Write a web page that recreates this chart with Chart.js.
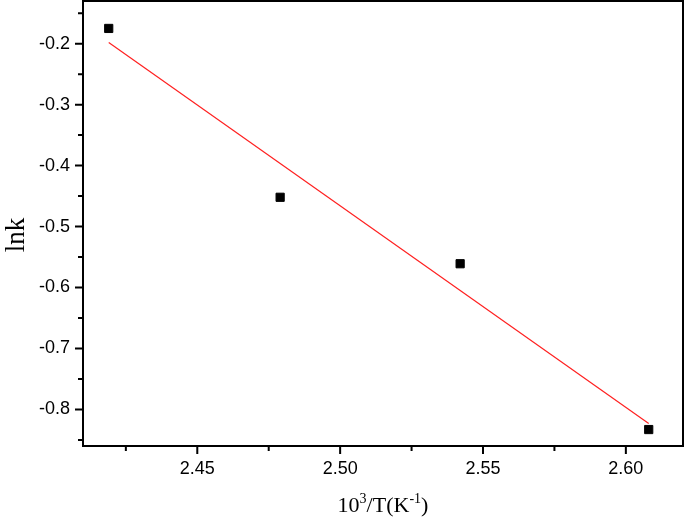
<!DOCTYPE html>
<html>
<head>
<meta charset="utf-8">
<script src="https://cdn.jsdelivr.net/npm/chart.js@4"></script>
<style>
  html, body { margin: 0; padding: 0; background: #fff; }
  canvas { display: block; }
</style>
</head>
<body>
<canvas id="myChart" width="685" height="518"></canvas>
<script>
"use strict";
// data
const invTemp = [2.419, 2.479, 2.542, 2.608];
const lnK = [-0.175, -0.452, -0.561, -0.833];
const fitX = [2.419, 2.608];
const fitY = [-0.198, -0.823];

const xMajor = [2.45, 2.50, 2.55, 2.60];
const xMinor = [2.425, 2.475, 2.525, 2.575];
const yMajor = [-0.2, -0.3, -0.4, -0.5, -0.6, -0.7, -0.8];
const yMinor = [-0.15, -0.25, -0.35, -0.45, -0.55, -0.65, -0.75, -0.85];

const frame = {
    id: "frame",
    afterDraw(chart) {
        const ctx = chart.ctx;
        const a = chart.chartArea;
        const sx = chart.scales.x, sy = chart.scales.y;
        ctx.save();
        ctx.strokeStyle = "#000";
        ctx.lineWidth = 2;
        ctx.strokeRect(a.left, a.top, a.right - a.left, a.bottom - a.top);
        ctx.beginPath();
        xMajor.forEach(v => { const p = sx.getPixelForValue(v); ctx.moveTo(p, a.bottom); ctx.lineTo(p, a.bottom + 8); });
        xMinor.forEach(v => { const p = sx.getPixelForValue(v); ctx.moveTo(p, a.bottom); ctx.lineTo(p, a.bottom + 5); });
        yMajor.forEach(v => { const p = sy.getPixelForValue(v); ctx.moveTo(a.left, p); ctx.lineTo(a.left - 8, p); });
        yMinor.forEach(v => { const p = sy.getPixelForValue(v); ctx.moveTo(a.left, p); ctx.lineTo(a.left - 5, p); });
        ctx.stroke();

        // axis titles
        ctx.fillStyle = "#000";
        ctx.textBaseline = "alphabetic";
        ctx.save();
        ctx.translate(24, 235);
        ctx.rotate(-Math.PI / 2);
        ctx.font = "27px 'Liberation Serif', 'Times New Roman', serif";
        ctx.textAlign = "center";
        ctx.fillText("lnk", 0, 0);
        ctx.restore();

        const parts = [
            ["10", false], ["3", true], ["/T(K", false], ["-1", true], [")", false]
        ];
        const big = "22px 'Liberation Serif', 'Times New Roman', serif";
        const small = "14px 'Liberation Serif', 'Times New Roman', serif";
        let total = 0;
        parts.forEach(([t, sup]) => { ctx.font = sup ? small : big; total += ctx.measureText(t).width; });
        let x = (a.left + a.right) / 2 - total / 2;
        const base = 512;
        ctx.textAlign = "left";
        parts.forEach(([t, sup]) => {
            ctx.font = sup ? small : big;
            ctx.fillText(t, x, sup ? base - 9 : base);
            x += ctx.measureText(t).width;
        });
        ctx.restore();
    }
};

window.addEventListener("load", function() {
    const ctx = document.getElementById("myChart");
    new Chart(ctx, {
        "type": "scatter",
        "data": {
            "datasets": [
                {
                    "label": "lnk",
                    "data": invTemp.map((v, i) => ({ x: v, y: lnK[i] })),
                    "pointStyle": "rect",
                    "pointRadius": 5.8,
                    "backgroundColor": "#000",
                    "borderColor": "#000",
                    "borderWidth": 1,
                    "order": 1
                },
                {
                    "label": "fit",
                    "data": fitX.map((v, i) => ({ x: v, y: fitY[i] })),
                    "showLine": true,
                    "pointRadius": 0,
                    "borderColor": "#ff2020",
                    "borderWidth": 1.2,
                    "order": 2
                }
            ]
        },
        "options": {
            "responsive": false,
            "animation": false,
            "layout": { "autoPadding": false, "padding": { "top": 1, "right": 2, "left": 0, "bottom": 0 } },
            "plugins": {
                "legend": { "display": false },
                "tooltip": { "enabled": false }
            },
            "scales": {
                "x": {
                    "type": "linear",
                    "min": 2.41,
                    "max": 2.62,
                    "afterBuildTicks": s => { s.ticks = xMajor.map(v => ({ value: v })); },
                    "afterFit": s => { s.height = 72; s.paddingLeft = 0; s.paddingRight = 0; },
                    "grid": { "display": false, "drawTicks": false },
                    "border": { "display": false },
                    "ticks": {
                        "color": "#000",
                        "padding": 12,
                        "maxRotation": 0,
                        "font": { "family": "'Liberation Sans', Arial, sans-serif", "size": 18 },
                        "callback": v => v.toFixed(2)
                    }
                },
                "y": {
                    "type": "linear",
                    "min": -0.86,
                    "max": -0.13,
                    "afterBuildTicks": s => { s.ticks = yMajor.map(v => ({ value: v })); },
                    "afterFit": s => { s.width = 83; s.paddingTop = 0; s.paddingBottom = 0; },
                    "grid": { "display": false, "drawTicks": false },
                    "border": { "display": false },
                    "ticks": {
                        "color": "#000",
                        "padding": 13,
                        "font": { "family": "'Liberation Sans', Arial, sans-serif", "size": 18 },
                        "callback": v => v.toFixed(1)
                    }
                }
            }
        },
        "plugins": [frame]
    });
});
</script>
</body>
</html>
